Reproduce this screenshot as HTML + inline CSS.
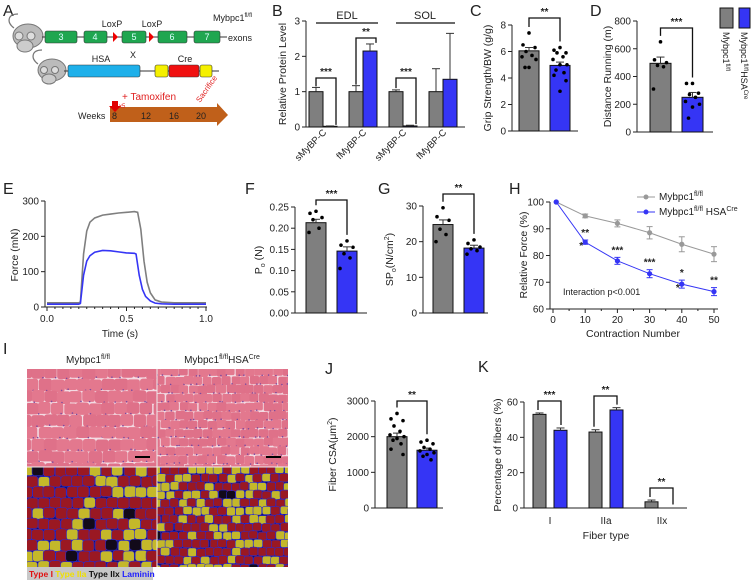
<!DOCTYPE html>
<html><head><meta charset="utf-8">
<style>
html,body{margin:0;padding:0;background:#fff;}
svg{display:block;font-family:"Liberation Sans",Arial,sans-serif;}
text{fill:#222;}
</style></head>
<body>
<svg id="fig" width="755" height="584" viewBox="0 0 755 584" xmlns="http://www.w3.org/2000/svg">
<defs>
<clipPath id="clipHE1"><rect x="27" y="369" width="130" height="98"/></clipPath>
<clipPath id="clipHE2"><rect x="157" y="369" width="131" height="98"/></clipPath>
<clipPath id="clipIF1"><rect x="27" y="467" width="130" height="100"/></clipPath>
<clipPath id="clipIF2"><rect x="157" y="467" width="131" height="100"/></clipPath>
</defs>

<!-- Panel A -->
<g>
<text x="3" y="16" font-size="16">A</text>
<g>
<path d="M14 28 C6 22 8 14 18 14" stroke="#777" fill="none" stroke-width="1.2"/>
<ellipse cx="28" cy="36" rx="15" ry="12" fill="#bbb" stroke="#777"/>
<ellipse cx="25" cy="46" rx="8" ry="6" fill="#ccc" stroke="#777"/>
<circle cx="19" cy="36" r="4" fill="#ddd" stroke="#777"/><circle cx="31" cy="36" r="4" fill="#ddd" stroke="#777"/>
</g>
<line x1="42" y1="37" x2="227" y2="37" stroke="#333" stroke-width="1"/>
<g font-size="9" text-anchor="middle">
<rect x="45" y="31" width="32" height="12" rx="2" fill="#1fa650" stroke="#333" stroke-width=".6"/><text x="61" y="40" style="fill:#dff">3</text>
<rect x="84" y="31" width="23" height="12" rx="2" fill="#1fa650" stroke="#333" stroke-width=".6"/><text x="95" y="40" style="fill:#dff">4</text>
<rect x="122" y="31" width="24" height="12" rx="2" fill="#1fa650" stroke="#333" stroke-width=".6"/><text x="134" y="40" style="fill:#dff">5</text>
<rect x="158" y="31" width="29" height="12" rx="2" fill="#1fa650" stroke="#333" stroke-width=".6"/><text x="172" y="40" style="fill:#dff">6</text>
<rect x="194" y="31" width="26" height="12" rx="2" fill="#1fa650" stroke="#333" stroke-width=".6"/><text x="207" y="40" style="fill:#dff">7</text>
</g>
<polygon points="113,32 118,37 113,42" fill="#e00"/>
<polygon points="149,32 154,37 149,42" fill="#e00"/>
<text x="112" y="27" font-size="9" text-anchor="middle">LoxP</text>
<text x="152" y="27" font-size="9" text-anchor="middle">LoxP</text>
<text x="213" y="21" font-size="9">Mybpc1<tspan font-size="6" dy="-4">fl/fl</tspan></text>
<text x="228" y="41" font-size="9">exons</text>
<text x="133" y="58" font-size="9" text-anchor="middle">X</text>
<g>
<path d="M38 64 C30 58 32 50 42 50" stroke="#777" fill="none" stroke-width="1.2"/>
<ellipse cx="52" cy="70" rx="14" ry="11" fill="#bbb" stroke="#777"/>
<ellipse cx="49" cy="79" rx="7" ry="5" fill="#ccc" stroke="#777"/>
<circle cx="44" cy="70" r="3.5" fill="#ddd" stroke="#777"/><circle cx="55" cy="70" r="3.5" fill="#ddd" stroke="#777"/>
</g>
<line x1="64" y1="71" x2="219" y2="71" stroke="#333"/>
<rect x="68" y="65" width="72" height="12" rx="2" fill="#1eb0ea" stroke="#333" stroke-width=".6"/>
<rect x="155" y="65" width="13" height="12" rx="2" fill="#f5f000" stroke="#333" stroke-width=".6"/>
<rect x="169" y="65" width="30" height="12" rx="2" fill="#f01010" stroke="#333" stroke-width=".6"/>
<rect x="200" y="65" width="12" height="12" rx="2" fill="#f5f000" stroke="#333" stroke-width=".6"/>
<text x="101" y="62" font-size="9" text-anchor="middle">HSA</text>
<text x="185" y="62" font-size="9" text-anchor="middle">Cre</text>
<text x="122" y="100" font-size="10" style="fill:#e02020">+ Tamoxifen</text>
<text x="0" y="0" font-size="8" style="fill:#e02020" transform="translate(200,103) rotate(-55)">Sacrifice</text>
<polygon points="110,107 217,107 217,103 228,115 217,126 217,122 110,122" fill="#c0601a"/>
<polygon points="112,101 118,101 118,106 121,106 115,112 109,106 112,106" fill="#e00000"/>
<text x="119" y="108" font-size="6" style="fill:#e02020">x5</text>
<g font-size="9">
<text x="78" y="119">Weeks</text>
<text x="112" y="119">8</text><text x="141" y="119">12</text><text x="169" y="119">16</text><text x="196" y="119">20</text>
</g>
</g>

<g id="charts"></g>

<!-- Panel I histology -->
<g>
<text x="3" y="354" font-size="16">I</text>
<text x="88" y="363" font-size="10" text-anchor="middle">Mybpc1<tspan font-size="7" dy="-4">fl/fl</tspan></text>
<text x="222" y="363" font-size="10" text-anchor="middle">Mybpc1<tspan font-size="7" dy="-4">fl/fl</tspan><tspan dy="4">HSA</tspan><tspan font-size="7" dy="-4">Cre</tspan></text>
<g id="histo"></g>
<rect x="27" y="567" width="126" height="13" fill="#c8c8c8"/>
<text x="29" y="577" font-size="8.5" font-weight="bold"><tspan style="fill:#e01010">Type I </tspan><tspan style="fill:#f0e000">Type IIa </tspan><tspan style="fill:#111">Type IIx </tspan><tspan style="fill:#2020ff">Laminin</tspan></text>
</g>
</svg>

<script>
const NS='http://www.w3.org/2000/svg';
const GRAY='#7f7f7f', BLUE='#3535f5';
function mk(tag, attrs, parent){const e=document.createElementNS(NS,tag);for(const k in attrs)e.setAttribute(k,attrs[k]);parent.appendChild(e);return e;}
const root=document.getElementById('charts');

// ---------- DATA ----------
// Panel B
const bCategories=['sMyBP-C','fMyBP-C','sMyBP-C','fMyBP-C'];
const bControl=[1.0,1.0,1.0,1.0];
const bControlErr=[0.12,0.17,0.05,0.65];
const bKO=[0.02,2.15,0.03,1.35];
const bKOErr=[0.01,0.2,0.02,1.3];
const bTicks=[0,1,2,3];
// Panel C
const cControlDots=[7.4,6.5,6.3,6.0,5.7,5.6,5.4,4.8,4.8];
const cKODots=[6.3,6.1,5.9,5.9,5.6,5.4,5.0,5.0,4.6,4.4,4.2,3.8,3.0];
const cMeans=[6.05,4.95];
const cErr=[0.25,0.25];
const cTicks=[0,2,4,6,8];
// Panel D
const dControlDots=[650,520,500,480,470,310];
const dKODots=[350,350,280,270,250,220,200,180,100];
const dMeans=[495,250];
const dErr=[45,35];
const dTicks=[0,200,400,600,800];
// Panel E
const eTime=[0,0.2,0.21,0.23,0.25,0.27,0.3,0.35,0.4,0.45,0.5,0.55,0.57,0.59,0.61,0.63,0.65,0.68,0.72,0.8,1.0];
const eControl=[12,12,14,150,215,240,252,260,263,266,268,270,268,220,130,70,40,20,14,12,12];
const eKOTime=[0,0.2,0.21,0.23,0.25,0.27,0.3,0.35,0.4,0.45,0.5,0.55,0.56,0.58,0.6,0.62,0.65,0.68,0.72,0.8,1.0];
const eKO=[8,8,10,90,130,145,155,160,159,156,153,152,150,90,50,30,17,11,9,8,8];
const eYTicks=[0,100,200,300];
const eXTicks=[0,0.5,1.0];
// Panel F
const fControlDots=[0.24,0.235,0.225,0.22,0.2,0.19];
const fKODots=[0.17,0.16,0.155,0.14,0.13,0.105];
const fMeans=[0.213,0.146];
const fErr=[0.008,0.01];
const fTicks=[0,0.05,0.10,0.15,0.20,0.25];
// Panel G
const gControlDots=[29.5,27,26,23.5,22,20];
const gKODots=[20.5,19.5,18.5,18,17.5,16.5];
const gMeans=[24.8,18.2];
const gErr=[1.3,0.8];
const gTicks=[0,10,20,30];
// Panel H
const hContraction=[1,10,20,30,40,50];
const hControl=[100,94.8,92,88.5,84.2,80.5];
const hControlErr=[0,0.7,1.3,2.3,2.8,2.8];
const hKO=[100,85,78,73.2,69.3,66.5];
const hKOErr=[0,0.8,1.3,1.5,1.5,1.5];
const hYTicks=[60,70,80,90,100];
const hXTicks=[0,10,20,30,40,50];
// Panel J
const jControlDots=[2650,2500,2450,2300,2150,2050,2000,1950,1900,1800,1650,1500];
const jKODots=[1900,1850,1800,1700,1650,1600,1550,1500,1450,1350];
const jMeans=[2000,1620];
const jErr=[100,60];
const jTicks=[0,1000,2000,3000];
// Panel K
const kCategories=['I','IIa','IIx'];
const kControl=[53,43,3.5];
const kControlErr=[0.8,1.3,1.0];
const kKO=[44,55.5,0];
const kKOErr=[1.3,1.3,0];
const kTicks=[0,20,40,60];

// ---------- helpers ----------
function linScale(d0,d1,r0,r1){return v=>r0+(v-d0)/(d1-d0)*(r1-r0);}
function yAxis(g,x,y,ticks,fmt,xEnd){
  const ax=mk('line',{x1:x,y1:y(ticks[0]),x2:x,y2:y(ticks[ticks.length-1]),stroke:'#222','stroke-width':1},g);
  
  
  ticks.forEach(t=>{
    mk('line',{x1:x-4,y1:y(t),x2:x,y2:y(t),stroke:'#222'},g);
    const tx=mk('text',{x:x-6,y:y(t)+3.5,'font-size':10,'text-anchor':'end'},g);
    tx.textContent=fmt(t);
    
    
  });
  const bx=mk('line',{x1:x,y1:y(ticks[0]),x2:xEnd,y2:y(ticks[0]),stroke:'#222'},g);
  
  
}
function yTitle(g,x,cy,html){
  const t=mk('text',{x:0,y:0,'font-size':10.5,'text-anchor':'middle',transform:`translate(${x},${cy}) rotate(-90)`},g);
  t.innerHTML=html;
  
  
}
function bar(g,x,w,y,val,err,color,name){
  const r=mk('rect',{x:x,y:Math.min(y(val),y(0)),width:w,height:Math.abs(y(0)-y(val)),fill:color,stroke:'#111','stroke-width':1},g);
  
  
  if(err>0){
    const cx=x+w/2;
    mk('line',{x1:cx,y1:y(val),x2:cx,y2:y(val+err),stroke:'#333'},g);
    mk('line',{x1:cx-4,y1:y(val+err),x2:cx+4,y2:y(val+err),stroke:'#333'},g);
  }
}
const jit=[0,-6,6,-3,3,-7,7,0,-4,4,-6,6,0,-2,2];
function dots(g,cx,y,vals){
  vals.forEach((v,i)=>{
    const c=mk('circle',{cx:cx+jit[i%jit.length],cy:y(v),r:1.8,fill:'#000'},g);
    
    
  });
}
function bracket(g,x1,x2,yTop,y1b,y2b,stars){
  mk('polyline',{points:`${x1},${y1b} ${x1},${yTop} ${x2},${yTop} ${x2},${y2b}`,fill:'none',stroke:'#111','stroke-width':1.3},g);
  const t=mk('text',{x:(x1+x2)/2,y:yTop-3,'font-size':10,'text-anchor':'middle','font-weight':'bold'},g);
  t.textContent=stars;
  
  
}
function label(g,x,y,s){
  const t=mk('text',{x:x,y:y,'font-size':16},g);t.textContent=s;
  
  
}
function groupPanel(name){const g=mk('g',{},root);return g;}

// ---------- Panel B ----------
(function(){
  const g=groupPanel('panel-b');
  label(g,272,16,'B');
  const y=linScale(0,3,127,21);
  yAxis(g,306,y,bTicks,t=>String(t),465);
  yTitle(g,286,74,'Relative Protein Level');
  const gx=[309,349,389,429], w=14;
  bCategories.forEach((c,i)=>{
    bar(g,gx[i],w,y,bControl[i],bControlErr[i],GRAY,'bar-control-'+c);
    bar(g,gx[i]+w,w,y,bKO[i],bKOErr[i],BLUE,'bar-knockout-'+c);
    const t=mk('text',{x:0,y:0,'font-size':9.5,'text-anchor':'end',transform:`translate(${gx[i]+w+4},${133}) rotate(-45)`},g);
    t.textContent=c;
    
    
  });
  mk('line',{x1:316,y1:23,x2:378,y2:23,stroke:'#111','stroke-width':1.3},g);
  mk('line',{x1:396,y1:23,x2:455,y2:23,stroke:'#111','stroke-width':1.3},g);
  const t1=mk('text',{x:347,y:19,'font-size':11,'text-anchor':'middle'},g);t1.textContent='EDL';
  const t2=mk('text',{x:425,y:19,'font-size':11,'text-anchor':'middle'},g);t2.textContent='SOL';
  bracket(g,316,336,78,y(1.15),y(0.06),'***');
  bracket(g,356,376,38,y(1.2),y(2.38),'**');
  bracket(g,396,416,78,y(1.1),y(0.08),'***');
})();

// ---------- generic 2-bar panels ----------
function twoBar(name,lab,lx,axisX,y0,yTop,ticks,fmt,xEnd,xs,w,means,errs,ctrlDots,koDots,title,titleX,brTop,stars){
  const g=groupPanel(name);
  label(g,lx[0],lx[1],lab);
  const y=linScale(ticks[0],ticks[ticks.length-1],y0,yTop);
  yAxis(g,axisX,y,ticks,fmt,xEnd);
  yTitle(g,titleX,(y0+yTop)/2,title);
  bar(g,xs[0],w,y,means[0],errs[0],GRAY,'bar-control');
  bar(g,xs[1],w,y,means[1],errs[1],BLUE,'bar-knockout');
  dots(g,xs[0]+w/2,y,ctrlDots);
  dots(g,xs[1]+w/2,y,koDots);
  bracket(g,xs[0]+w/2,xs[1]+w/2,brTop,y(Math.max(...ctrlDots))-6,y(Math.max(...koDots))-6,stars);
  return g;
}
twoBar('panel-c','C',[470,16],512,131,25,cTicks,t=>String(t),578,[519,550],20,cMeans,cErr,cControlDots,cKODots,'Grip Strength/BW (g/g)',491,18,'**');
twoBar('panel-d','D',[590,16],637,132,21,dTicks,t=>String(t),713,[650,682],21,dMeans,dErr,dControlDots,dKODots,'Distance Running (m)',611,28,'***');
twoBar('panel-f','F',[245,194],295,313,207,fTicks,t=>t.toFixed(2),367,[306,337],20,fMeans,fErr,fControlDots,fKODots,'P<tspan font-size="7" dy="3">o</tspan><tspan dy="-3"> (N)</tspan>',262,200,'***');
twoBar('panel-g','G',[378,194],423,313,206,gTicks,t=>String(t),488,[433,464],20,gMeans,gErr,gControlDots,gKODots,'SP<tspan font-size="7" dy="3">o</tspan><tspan dy="-3">(N/cm</tspan><tspan font-size="7" dy="-4">2</tspan><tspan dy="4">)</tspan>',393,194,'**');
twoBar('panel-j','J',[325,374],375,508,401,jTicks,t=>String(t),443,[387,417],20,jMeans,jErr,jControlDots,jKODots,'Fiber CSA(μm<tspan font-size="7" dy="-4">2</tspan><tspan dy="4">)</tspan>',336,401,'**');

// ---------- legend D ----------
(function(){
  const g=groupPanel('legend');
  const r1=mk('rect',{x:720,y:8,width:13,height:20,fill:GRAY,stroke:'#111'},g);
  
  
  const r2=mk('rect',{x:739,y:8,width:11,height:20,fill:BLUE,stroke:'#111'},g);
  
  
  const t1=mk('text',{x:0,y:0,'font-size':9,transform:'translate(723,32) rotate(90)'},g);
  t1.innerHTML='Mybpc1<tspan font-size="6" dy="-3">fl/fl</tspan>';
  
  
  const t2=mk('text',{x:0,y:0,'font-size':9,transform:'translate(741,32) rotate(90)'},g);
  t2.innerHTML='Mybpc1<tspan font-size="6" dy="-3">fl/fl</tspan><tspan dy="3">HSA</tspan><tspan font-size="6" dy="-3">Cre</tspan>';
  
  
})();

// ---------- Panel E ----------
(function(){
  const g=groupPanel('panel-e');
  label(g,3,194,'E');
  const y=linScale(0,300,307,201);
  const x=linScale(0,1,47,206);
  yAxis(g,45,y,eYTicks,t=>String(t),207);
  yTitle(g,18,255,'Force (mN)');
  for(let t=0;t<=1.0001;t+=0.05){mk('line',{x1:x(t),y1:307,x2:x(t),y2:Math.abs(t*2-Math.round(t*2))<1e-6?311:309,stroke:'#222'},g);}
  eXTicks.forEach(t=>{const tx=mk('text',{x:x(t),y:322,'font-size':10,'text-anchor':'middle'},g);tx.textContent=t.toFixed(1);
    });
  const xt=mk('text',{x:120,y:337,'font-size':10,'text-anchor':'middle'},g);xt.textContent='Time (s)';
  
  const l1=mk('polyline',{points:eTime.map((t,i)=>x(t)+','+y(eControl[i])).join(' '),fill:'none',stroke:GRAY,'stroke-width':1.6},g);
  
  
  const l2=mk('polyline',{points:eKOTime.map((t,i)=>x(t)+','+y(eKO[i])).join(' '),fill:'none',stroke:BLUE,'stroke-width':1.6},g);
  
  
})();

// ---------- Panel H ----------
(function(){
  const g=groupPanel('panel-h');
  label(g,509,194,'H');
  const y=linScale(60,100,309,202);
  const x=linScale(0,50,553,714);
  yAxis(g,550,y,hYTicks,t=>String(t),718);
  yTitle(g,527,255,'Relative Force (%)');
  for(let t=0;t<=50;t+=5){mk('line',{x1:x(t),y1:309,x2:x(t),y2:t%10===0?313:311,stroke:'#222'},g);}
  hXTicks.forEach(t=>{const tx=mk('text',{x:x(t),y:323,'font-size':10,'text-anchor':'middle'},g);tx.textContent=String(t);
    });
  const xt=mk('text',{x:633,y:337,'font-size':10.5,'text-anchor':'middle'},g);xt.textContent='Contraction Number';
  
  function series(vals,errs,color,nm){
    const l=mk('polyline',{points:hContraction.map((c,i)=>x(c)+','+y(vals[i])).join(' '),fill:'none',stroke:color,'stroke-width':1},g);
    
    
    hContraction.forEach((c,i)=>{
      if(errs[i]>0){mk('line',{x1:x(c),y1:y(vals[i]-errs[i]),x2:x(c),y2:y(vals[i]+errs[i]),stroke:color},g);
        mk('line',{x1:x(c)-3,y1:y(vals[i]-errs[i]),x2:x(c)+3,y2:y(vals[i]-errs[i]),stroke:color},g);
        mk('line',{x1:x(c)-3,y1:y(vals[i]+errs[i]),x2:x(c)+3,y2:y(vals[i]+errs[i]),stroke:color},g);}
      const p=mk('circle',{cx:x(c),cy:y(vals[i]),r:2.6,fill:color},g);
      
      
    });
  }
  series(hControl,hControlErr,'#999','control');
  series(hKO,hKOErr,BLUE,'knockout');
  const stars=['','**','***','***','*','**'];
  hContraction.forEach((c,i)=>{if(stars[i]){const t=mk('text',{x:x(c),y:y(hKO[i]+hKOErr[i])-4,'font-size':10,'text-anchor':'middle','font-weight':'bold'},g);t.textContent=stars[i];
    }});
  [10,40].forEach(c=>{const t=mk('text',{x:x(c)-2,y:y(hKO[hContraction.indexOf(c)])+7,'font-size':10,'text-anchor':'end','font-weight':'bold'},g);t.textContent='*';});
  const it=mk('text',{x:563,y:295,'font-size':9},g);it.textContent='Interaction p<0.001';
  
  mk('line',{x1:637,y1:197,x2:655,y2:197,stroke:'#999'},g);mk('circle',{cx:646,cy:197,r:2.5,fill:'#999'},g);
  mk('line',{x1:637,y1:212,x2:655,y2:212,stroke:BLUE},g);mk('circle',{cx:646,cy:212,r:2.5,fill:BLUE},g);
  const le1=mk('text',{x:659,y:200,'font-size':10},g);le1.innerHTML='Mybpc1<tspan font-size="7" dy="-4">fl/fl</tspan>';
  
  const le2=mk('text',{x:659,y:215,'font-size':10},g);le2.innerHTML='Mybpc1<tspan font-size="7" dy="-4">fl/fl</tspan><tspan dy="4"> HSA</tspan><tspan font-size="7" dy="-4">Cre</tspan>';
  
})();

// ---------- Panel K ----------
(function(){
  const g=groupPanel('panel-k');
  label(g,478,372,'K');
  const y=linScale(0,60,508,402);
  yAxis(g,524,y,kTicks,t=>String(t),687);
  yTitle(g,501,455,'Percentage of fibers (%)');
  const gx=[533,589,645], w=13, off=21;
  kCategories.forEach((c,i)=>{
    bar(g,gx[i],w,y,kControl[i],kControlErr[i],GRAY,'bar-control-'+c);
    if(kKO[i]>0)bar(g,gx[i]+off,w,y,kKO[i],kKOErr[i],BLUE,'bar-knockout-'+c);
    const t=mk('text',{x:gx[i]+17,y:524,'font-size':10,'text-anchor':'middle'},g);t.textContent=c;
    
  });
  const xt=mk('text',{x:606,y:539,'font-size':10.5,'text-anchor':'middle'},g);xt.textContent='Fiber type';
  
  bracket(g,538,561,401,y(kControl[0]+kControlErr[0])-3,y(kKO[0]+kKOErr[0])-3,'***');
  bracket(g,594,617,396,y(kControl[1]+kControlErr[1])-3,y(kKO[1]+kKOErr[1])-3,'**');
  bracket(g,650,673,488,y(kControl[2]+kControlErr[2])-3,y(2),'**');
})();

// ---------- histology textures ----------
(function(){
  const h=document.getElementById('histo');
  let s=7;const rnd=()=>{s=(s*9301+49297)%233280;return s/233280;};
  function he(clip,x0,y0,w,hh,cell){
    const g=mk('g',{'clip-path':`url(#${clip})`},h);
    
    
    mk('rect',{x:x0,y:y0,width:w,height:hh,fill:'#f3dbe3'},g);
    let row=0;
    for(let yy=y0-cell;yy<y0+hh+cell;yy+=cell*0.8,row++){for(let xx=x0-cell+(row%2)*cell*0.4;xx<x0+w+cell;xx+=cell*0.85){
      const cw=cell*(0.82+rnd()*0.12),ch=cell*(0.74+rnd()*0.1);
      mk('rect',{x:xx+rnd()*1.5,y:yy+rnd()*1.5,width:cw,height:ch,rx:cw*0.2,fill:rnd()>0.5?'#e3788e':'#df7189'},g);
      mk('circle',{cx:xx+rnd()*cw,cy:yy+ch,r:0.8,fill:'#7a4aa0'},g);
    }}
    mk('rect',{x:x0+w-22,y:y0+hh-11,width:15,height:2,fill:'#000'},g);
  }
  function ifl(clip,x0,y0,w,hh,cell,py){
    const g=mk('g',{'clip-path':`url(#${clip})`},h);
    
    
    mk('rect',{x:x0,y:y0,width:w,height:hh,fill:'#14106a'},g);
    let row=0;
    for(let yy=y0-cell;yy<y0+hh+cell;yy+=cell*0.82,row++){for(let xx=x0-cell+(row%2)*cell*0.45;xx<x0+w+cell;xx+=cell*0.88){
      const r=rnd();const col=r<py?'#c4b82a':(r<0.95?'#9a1822':'#120a1a');
      const cw=cell*(0.86+rnd()*0.1),ch=cell*(0.8+rnd()*0.1);
      mk('rect',{x:xx+rnd()*1.5,y:yy+rnd()*1.5,width:cw,height:ch,rx:cw*0.25,fill:col,stroke:'#2a2ad0','stroke-width':0.6},g);
    }}
  }
  he('clipHE1',27,369,130,98,15);
  he('clipHE2',157,369,131,98,11);
  ifl('clipIF1',27,467,130,100,13,0.33);
  ifl('clipIF2',157,467,131,100,10,0.45);
  mk('line',{x1:157,y1:369,x2:157,y2:567,stroke:'#eee','stroke-width':1},h);
  mk('line',{x1:27,y1:467,x2:288,y2:467,stroke:'#eee','stroke-width':1},h);
})();
</script>
</body></html>
